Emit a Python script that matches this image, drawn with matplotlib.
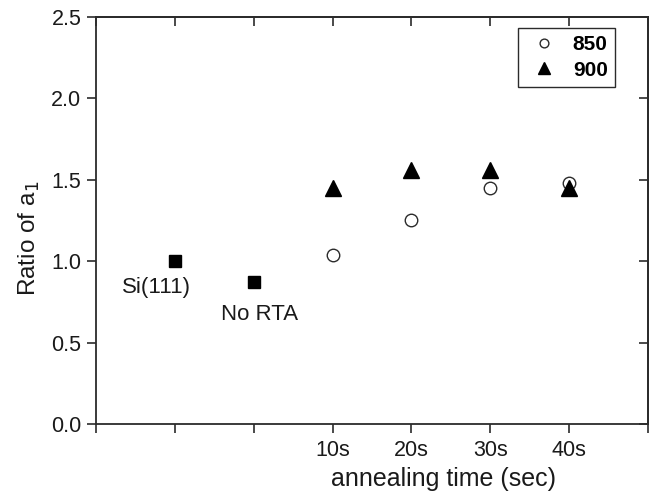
import matplotlib.pyplot as plt

plt.rcParams['font.family'] = ['Liberation Sans', 'DejaVu Sans']

# x positions 1..6 on a category axis
tick_pos = [0, 1, 2, 3, 4, 5, 6, 7]
tick_labels = ['', '', '', '10s', '20s', '30s', '40s', '']

# reference samples
ref_x = [1, 2]
ref_y = [1.00, 0.87]
ref_names = ['Si(111)', 'No RTA']
# where the sample names sit
name_x = [0.77, 2.08]
name_y = [0.84, 0.67]

# RTA at 850 and 900
anneal_x = [3, 4, 5, 6]
ratio_850 = [1.04, 1.25, 1.45, 1.48]
ratio_900 = [1.45, 1.56, 1.56, 1.45]

y_ticks = [0.0, 0.5, 1.0, 1.5, 2.0, 2.5]

dark = '#2b2b2b'
txt = '#1a1a1a'

fig = plt.figure(figsize=(6.52, 4.95), dpi=100)
ax = fig.add_axes([0.147, 0.1434, 0.847, 0.8223])

ax.plot(ref_x, ref_y, 's', color='black', ms=8.5, ls='none')
ax.plot(anneal_x, ratio_850, 'o', mfc='white', mec=dark, mew=1.0, ms=9, ls='none', label='850')
ax.plot(anneal_x, ratio_900, '^', color='black', ms=12, ls='none', label='900')

for nx, ny, name in zip(name_x, name_y, ref_names):
    ax.text(nx, ny, name, fontsize=16, ha='center', va='center', color=txt)

ax.set_xlim(0, 7)
ax.set_ylim(0, 2.5)
ax.set_xticks(tick_pos)
ax.set_xticklabels(tick_labels)
ax.set_yticks(y_ticks)
ax.set_yticklabels(['%.1f' % v for v in y_ticks])
ax.tick_params(direction='out', length=6.5, width=1.2, color=dark, labelsize=15.5, labelcolor=txt)
ax.tick_params(axis='x', pad=5)
ax.tick_params(axis='y', pad=4)

for sp in ax.spines.values():
    sp.set_color(dark)
    sp.set_linewidth(1.3)

# mirrored ticks on top and right, pointing inward
top = ax.secondary_xaxis('top')
top.set_xticks(tick_pos)
top.set_xticklabels([])
top.tick_params(direction='in', length=6.5, width=1.2, color=dark)
top.spines['top'].set_color(dark)
top.spines['top'].set_linewidth(1.3)
right = ax.secondary_yaxis('right')
right.set_yticks(y_ticks)
right.set_yticklabels([])
right.tick_params(direction='in', length=6.5, width=1.2, color=dark)
right.spines['right'].set_color(dark)
right.spines['right'].set_linewidth(1.3)

ax.set_xlabel('annealing time (sec)', fontsize=18, color=txt)
ax.xaxis.set_label_coords(0.63, -0.105)
ax.set_ylabel('Ratio of a$_1$', fontsize=17.5, color=txt)
ax.yaxis.set_label_coords(-0.097, 0.457)

leg = ax.legend(loc='upper right', bbox_to_anchor=(0.94, 0.973), borderaxespad=0,
                fancybox=False, edgecolor=dark, framealpha=1, handletextpad=0.5,
                borderpad=0.35, labelspacing=0.3, markerscale=0.7,
                prop={'size': 15, 'weight': 'bold'}, handlelength=1.8)
leg.get_frame().set_linewidth(1.0)

fig.savefig('out.png', dpi=100)
